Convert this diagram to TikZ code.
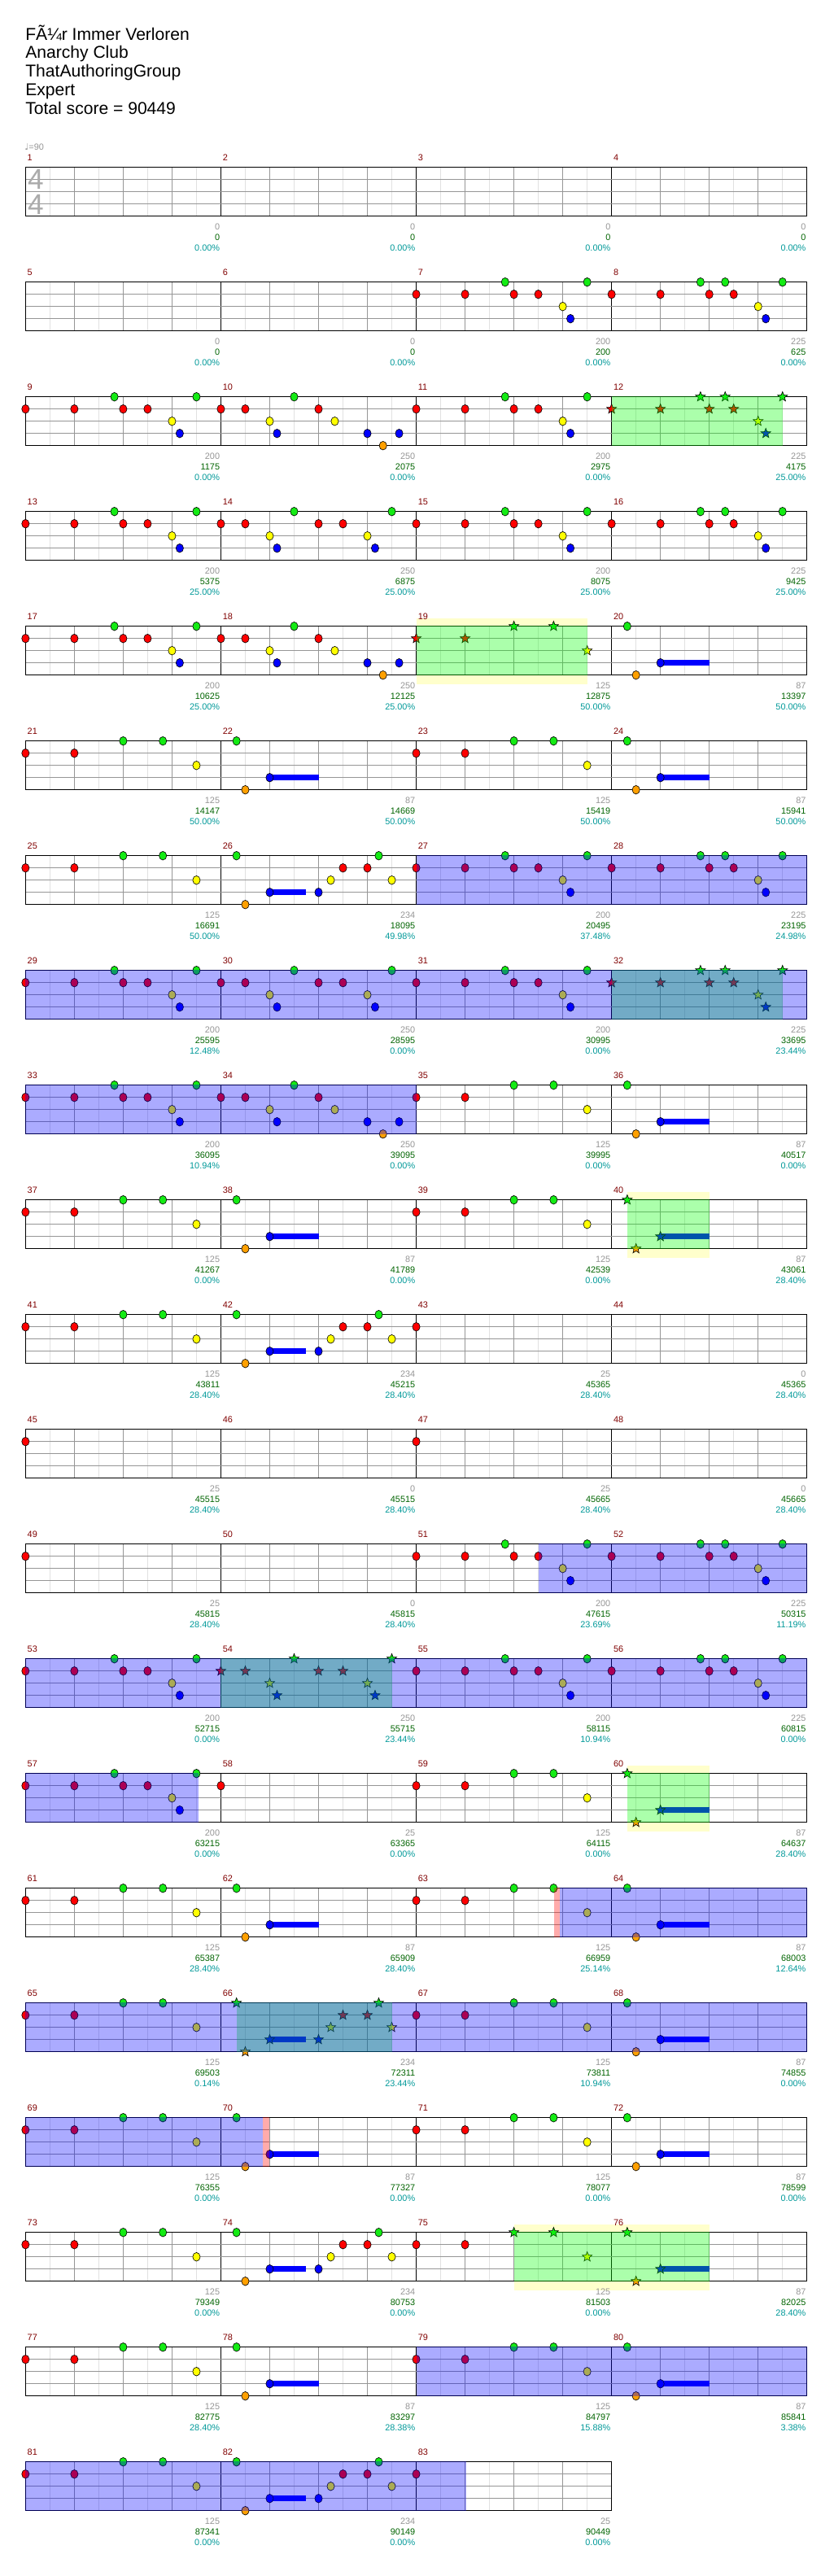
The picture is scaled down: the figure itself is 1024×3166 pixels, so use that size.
\documentclass[tikz,border=0pt]{standalone}
\usepackage{fontspec}
\setmainfont{Liberation Sans}
\newfontfamily\symfont{DejaVu Sans}
\usetikzlibrary{positioning}

\definecolor{ngreen}{RGB}{20,235,20}
\definecolor{nred}{RGB}{255,0,0}
\definecolor{nyellow}{RGB}{255,255,0}
\definecolor{nblue}{RGB}{0,0,255}
\definecolor{norange}{RGB}{255,160,0}
\definecolor{mnum}{RGB}{128,0,0}
\definecolor{sgray}{RGB}{150,150,150}
\definecolor{tgreen}{RGB}{0,100,0}
\definecolor{pcyan}{RGB}{0,153,153}
\definecolor{gline}{RGB}{150,150,150}
\definecolor{lline}{RGB}{225,225,225}
\definecolor{ybandcol}{RGB}{255,255,204}

% measure origin: row, column, left x, right x, top y (all in px)
\newcommand\setm[1]{%
  \pgfmathtruncatemacro\mrow{(#1-1)/4}%
  \pgfmathtruncatemacro\mcol{#1-1-4*\mrow}%
  \pgfmathsetmacro\mx{31.35+240.1*\mcol}%
  \pgfmathsetmacro\mend{\mx+240.1}%
  \pgfmathsetmacro\my{205.7+141*\mrow}}

% one gem: position in 16ths, lane, c=circle s=star
\newcommand\gnote[3]{%
  \pgfmathsetmacro\nx{\mx+15.006*#1}%
  \pgfmathsetmacro\ny{\my+15*#2}%
  \ifcase#2 \def\lc{ngreen}\or\def\lc{nred}\or\def\lc{nyellow}\or\def\lc{nblue}\else\def\lc{norange}\fi
  \if#3s%
    \filldraw[gemline, fill=\lc] (\nx,\ny) +(-90:6.3) -- +(-54:2.7) -- +(-18:6.3) -- +(18:2.7) -- +(54:6.3)
      -- +(90:2.7) -- +(126:6.3) -- +(162:2.7) -- +(198:6.3) -- +(234:2.7) -- cycle;
  \else
    \filldraw[gemline, fill=\lc] (\nx,\ny) ellipse [x radius=4.6, y radius=5.3];
  \fi}
\newcommand\nts[2]{\foreach \nP/\nL in #1 {\gnote{\nP}{\nL}{#2}}}
\newcommand\sus[2]{\fill[nblue] (\mx+15.006*#1,\my+41.6) rectangle (\mx+15.006*#2,\my+48.4);}

% note patterns
\def\LA{0/1,4/1,7.28/0,8/1,10/1,12/2,12.63/3,14/0}
\def\LB{0/1,4/1,7.28/0,8/1,9.3/0,10/1,12/2,12.63/3,14/0}
\def\LC{0/1,2/1,4/2,4.6/3,6/0,8/1,9.33/2,12/3,13.28/4,14.6/3}
\def\LD{0/1,2/1,4/2,4.6/3,6/0,8/1,10/1,12/2,12.63/3,14/0}
\def\LE{0/1,4/1,8/0,11.25/0,14/2}
\def\LF{1.28/0,2/4,4/3}
\def\LG{1.28/0,2/4,4/3,8/3,9/2,10/1,12/1,12.93/0,14/2}
\def\LH{0/1,4/1}
\def\LI{8/0,11.25/0,14/2}
\def\LR{0/1}
\newcommand\PF[1]{\sus{4}{8}\nts\LF{#1}}
\newcommand\PG[1]{\sus{4}{7}\nts\LG{#1}}

% staff of one row: row index, number of measures
\newcommand\staff[2]{%
  \pgfmathsetmacro\sy{205.7+141*#1}%
  \pgfmathsetmacro\sx{31.35+240.1*#2}%
  \pgfmathtruncatemacro\sn{#2-1}%
  \fill[white] (31.35,\sy) rectangle (\sx,\sy+60);
  \foreach \q in {0,...,\sn} {
    \foreach \j in {1,3,5,7} \draw[gridE] ({31.35+240.1*\q+30.0125*\j},\sy) -- ++(0,60);
    \foreach \j in {1,2,3} \draw[gridQ] ({31.35+240.1*\q+60.025*\j},\sy) -- ++(0,60);
  }
  \foreach \q in {1,...,\sn} \draw[gridM] ({31.35+240.1*\q},\sy) -- ++(0,60);
  \foreach \j in {1,2,3} \draw[laneline] (31.35,\sy+15*\j) -- (\sx,\sy+15*\j);
  \draw[staffframe] (31.35,\sy) rectangle (\sx,\sy+60);}

% labels of one measure: number, score, total, percent
\newcommand\M[4]{\setm{#1}%
  \node[mlab] (num#1) at (\mx+2,\my-12) {#1};
  \node[slab] (sc#1) at (\mend-1,\my+72.7) {#2};
  \node[tlab] (tot#1) at (\mend-1,\my+85.7) {#3};
  \node[plab] (pct#1) at (\mend-1,\my+98.7) {#4\%};}

% shaded spans: first measure, first 16th, last measure, last 16th, style
\newcommand\hilite[5]{\setm{#1}\pgfmathsetmacro\xa{\mx+15.006*#2}%
  \setm{#3}\pgfmathsetmacro\xb{\mx+15.006*#4}%
  \fill[#5] (\xa,\my-0.7) rectangle (\xb,\my+60.7);}
\newcommand\yband[4]{\setm{#1}\pgfmathsetmacro\xa{\mx+15.006*#2}%
  \setm{#3}\pgfmathsetmacro\xb{\mx+15.006*#4}%
  \fill[ybandcol] (\xa,\my-10) rectangle (\xb,\my+71);}

\begin{document}
\begin{tikzpicture}[
    x=0.02cm, y=-0.02cm,
    small/.style={font=\fontsize{6.2}{7}\selectfont, inner sep=0pt},
    mlab/.style={small, text=mnum, anchor=west},
    slab/.style={small, text=sgray, anchor=east},
    tlab/.style={small, text=tgreen, anchor=east},
    plab/.style={small, text=pcyan, anchor=east},
    head/.style={font=\fontsize{12}{14}\selectfont, inner sep=0pt, anchor=base west},
    tsig/.style={font=\fontsize{20}{22}\selectfont, text=black!33, inner sep=0pt},
    gridE/.style={draw=lline, line width=0.5pt},
    gridQ/.style={draw=gline, line width=0.5pt},
    gridM/.style={draw=black, line width=0.5pt},
    laneline/.style={draw=gline, line width=0.7pt},
    staffframe/.style={draw=black, line width=0.8pt},
    gemline/.style={draw=black, line width=0.35pt},
    spshade/.style={fill=green, fill opacity=0.33},
    odshade/.style={fill=blue, fill opacity=0.33},
    odstart/.style={fill=red, fill opacity=0.33}
]
\fill[white] (0,0) rectangle (1024,3166);
\useasboundingbox (0,0) rectangle (1024,3166);

% Header
\node[head] (song) at (31,50) {FÃ¼r Immer Verloren};
\node[head] (artist) at (31,72) {Anarchy Club};
\node[head] (charter) at (31,95) {ThatAuthoringGroup};
\node[head] (level) at (31,118) {Expert};
\node[head] (total) at (31,141) {Total score = 90449};
\node[small, text=sgray, anchor=west] (tempo) at (30,181) {{\symfont ♩}=90};

% Star power bands behind the staff
\yband{19}{0}{19}{14}
\yband{40}{1.28}{40}{8}
\yband{60}{1.28}{60}{8}
\yband{75}{8}{76}{8}

% Staves
\foreach \r in {0,...,19} {\staff{\r}{4}}
\staff{20}{3}
\node[tsig] (tsTop) at (44,220.5) {4};
\node[tsig] (tsBot) at (44,251) {4};

% Measures
\M{1}{0}{0}{0.00}
\M{2}{0}{0}{0.00}
\M{3}{0}{0}{0.00}
\M{4}{0}{0}{0.00}
\M{5}{0}{0}{0.00}
\M{6}{0}{0}{0.00}
\M{7}{200}{200}{0.00}\nts\LA{c}
\M{8}{225}{625}{0.00}\nts\LB{c}
\M{9}{200}{1175}{0.00}\nts\LA{c}
\M{10}{250}{2075}{0.00}\nts\LC{c}
\M{11}{200}{2975}{0.00}\nts\LA{c}
\M{12}{225}{4175}{25.00}\nts\LB{s}
\M{13}{200}{5375}{25.00}\nts\LA{c}
\M{14}{250}{6875}{25.00}\nts\LD{c}
\M{15}{200}{8075}{25.00}\nts\LA{c}
\M{16}{225}{9425}{25.00}\nts\LB{c}
\M{17}{200}{10625}{25.00}\nts\LA{c}
\M{18}{250}{12125}{25.00}\nts\LC{c}
\M{19}{125}{12875}{50.00}\nts\LE{s}
\M{20}{87}{13397}{50.00}\PF{c}
\M{21}{125}{14147}{50.00}\nts\LE{c}
\M{22}{87}{14669}{50.00}\PF{c}
\M{23}{125}{15419}{50.00}\nts\LE{c}
\M{24}{87}{15941}{50.00}\PF{c}
\M{25}{125}{16691}{50.00}\nts\LE{c}
\M{26}{234}{18095}{49.98}\PG{c}
\M{27}{200}{20495}{37.48}\nts\LA{c}
\M{28}{225}{23195}{24.98}\nts\LB{c}
\M{29}{200}{25595}{12.48}\nts\LA{c}
\M{30}{250}{28595}{0.00}\nts\LD{c}
\M{31}{200}{30995}{0.00}\nts\LA{c}
\M{32}{225}{33695}{23.44}\nts\LB{s}
\M{33}{200}{36095}{10.94}\nts\LA{c}
\M{34}{250}{39095}{0.00}\nts\LC{c}
\M{35}{125}{39995}{0.00}\nts\LE{c}
\M{36}{87}{40517}{0.00}\PF{c}
\M{37}{125}{41267}{0.00}\nts\LE{c}
\M{38}{87}{41789}{0.00}\PF{c}
\M{39}{125}{42539}{0.00}\nts\LE{c}
\M{40}{87}{43061}{28.40}\PF{s}
\M{41}{125}{43811}{28.40}\nts\LE{c}
\M{42}{234}{45215}{28.40}\PG{c}
\M{43}{25}{45365}{28.40}\nts\LR{c}
\M{44}{0}{45365}{28.40}
\M{45}{25}{45515}{28.40}\nts\LR{c}
\M{46}{0}{45515}{28.40}
\M{47}{25}{45665}{28.40}\nts\LR{c}
\M{48}{0}{45665}{28.40}
\M{49}{25}{45815}{28.40}\nts\LR{c}
\M{50}{0}{45815}{28.40}
\M{51}{200}{47615}{23.69}\nts\LA{c}
\M{52}{225}{50315}{11.19}\nts\LB{c}
\M{53}{200}{52715}{0.00}\nts\LA{c}
\M{54}{250}{55715}{23.44}\nts\LD{s}
\M{55}{200}{58115}{10.94}\nts\LA{c}
\M{56}{225}{60815}{0.00}\nts\LB{c}
\M{57}{200}{63215}{0.00}\nts\LA{c}
\M{58}{25}{63365}{0.00}\nts\LR{c}
\M{59}{125}{64115}{0.00}\nts\LE{c}
\M{60}{87}{64637}{28.40}\PF{s}
\M{61}{125}{65387}{28.40}\nts\LE{c}
\M{62}{87}{65909}{28.40}\PF{c}
\M{63}{125}{66959}{25.14}\nts\LE{c}
\M{64}{87}{68003}{12.64}\PF{c}
\M{65}{125}{69503}{0.14}\nts\LE{c}
\M{66}{234}{72311}{23.44}\PG{s}
\M{67}{125}{73811}{10.94}\nts\LE{c}
\M{68}{87}{74855}{0.00}\PF{c}
\M{69}{125}{76355}{0.00}\nts\LE{c}
\M{70}{87}{77327}{0.00}\PF{c}
\M{71}{125}{78077}{0.00}\nts\LE{c}
\M{72}{87}{78599}{0.00}\PF{c}
\M{73}{125}{79349}{0.00}\nts\LE{c}
\M{74}{234}{80753}{0.00}\PG{c}
\M{75}{125}{81503}{0.00}\nts\LH{c}\nts\LI{s}
\M{76}{87}{82025}{28.40}\PF{s}
\M{77}{125}{82775}{28.40}\nts\LE{c}
\M{78}{87}{83297}{28.38}\PF{c}
\M{79}{125}{84797}{15.88}\nts\LE{c}
\M{80}{87}{85841}{3.38}\PF{c}
\M{81}{125}{87341}{0.00}\nts\LE{c}
\M{82}{234}{90149}{0.00}\PG{c}
\M{83}{25}{90449}{0.00}\nts\LR{c}

% Star power phrases
\hilite{12}{0}{12}{14}{spshade}
\hilite{19}{0}{19}{14}{spshade}
\hilite{32}{0}{32}{14}{spshade}
\hilite{40}{1.28}{40}{8}{spshade}
\hilite{54}{0}{54}{14}{spshade}
\hilite{60}{1.28}{60}{8}{spshade}
\hilite{66}{1.28}{66}{14}{spshade}
\hilite{75}{8}{76}{8}{spshade}

% Overdrive in use
\hilite{27}{0}{28}{16}{odshade}
\hilite{29}{0}{32}{16}{odshade}
\hilite{33}{0}{34}{16}{odshade}
\hilite{51}{10}{52}{16}{odshade}
\hilite{53}{0}{56}{16}{odshade}
\hilite{57}{0}{57}{14.2}{odshade}
\hilite{63}{11.3}{63}{11.75}{odstart}
\hilite{63}{11.75}{64}{16}{odshade}
\hilite{65}{0}{68}{16}{odshade}
\hilite{69}{0}{70}{3.46}{odshade}
\hilite{70}{3.46}{70}{4}{odstart}
\hilite{79}{0}{80}{16}{odshade}
\hilite{81}{0}{83}{4.1}{odshade}

\end{tikzpicture}
\end{document}
